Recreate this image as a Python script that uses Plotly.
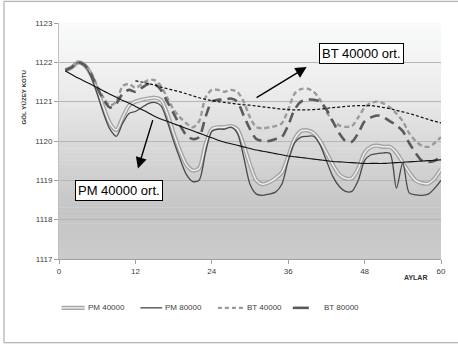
import plotly.graph_objects as go

# Monthly lake surface elevations (m) for each scenario
months = list(range(1, 61))

pm_40000 = [1121.80, 1121.87, 1122.00, 1121.93, 1121.70, 1121.30, 1120.85, 1120.45, 1120.28, 1120.60,
            1120.90, 1121.00, 1121.05, 1121.08, 1121.10, 1121.05, 1120.70, 1120.20, 1119.75, 1119.40,
            1119.25, 1119.30, 1119.90, 1120.30, 1120.35, 1120.35, 1120.38, 1120.30, 1119.90, 1119.40,
            1119.00, 1118.90, 1118.95, 1119.05, 1119.20, 1119.60, 1120.05, 1120.25, 1120.27, 1120.20,
            1120.00, 1119.70, 1119.40, 1119.15, 1119.05, 1119.05, 1119.30, 1119.70, 1119.85, 1119.88,
            1119.85, 1119.85, 1119.70, 1119.45, 1119.20, 1119.00, 1118.93, 1118.92, 1119.05, 1119.28]

pm_80000 = [1121.80, 1121.87, 1122.00, 1121.93, 1121.65, 1121.20, 1120.70, 1120.30, 1120.12, 1120.45,
            1120.70, 1120.75, 1120.85, 1120.95, 1120.98, 1120.90, 1120.50, 1120.00, 1119.55, 1119.15,
            1118.97, 1119.00, 1119.70, 1120.25, 1120.30, 1120.30, 1120.35, 1120.20, 1119.60, 1118.90,
            1118.65, 1118.62, 1118.65, 1118.70, 1118.90, 1119.50, 1119.95, 1120.10, 1120.12, 1120.12,
            1119.90, 1119.50, 1119.10, 1118.85, 1118.72, 1118.72, 1119.00, 1119.50, 1119.65, 1119.68,
            1119.70, 1119.68, 1118.80, 1119.45, 1118.68, 1118.63, 1118.62, 1118.65, 1118.80, 1119.00]

bt_40000 = [1121.80, 1121.87, 1122.00, 1121.95, 1121.75, 1121.40, 1121.10, 1120.90, 1121.00, 1121.40,
            1121.45, 1121.35, 1121.45, 1121.55, 1121.55, 1121.40, 1121.10, 1120.80, 1120.60, 1120.45,
            1120.35, 1120.50, 1121.10, 1121.30, 1121.30, 1121.25, 1121.30, 1121.25, 1121.00, 1120.60,
            1120.35, 1120.32, 1120.35, 1120.38, 1120.45, 1120.80, 1121.20, 1121.32, 1121.33, 1121.25,
            1121.05, 1120.75, 1120.50, 1120.40, 1120.36, 1120.38, 1120.60, 1120.85, 1120.97, 1121.00,
            1120.95, 1120.85, 1120.70, 1120.50, 1120.20, 1120.00, 1119.88, 1119.85, 1119.95, 1120.10]

bt_80000 = [1121.80, 1121.87, 1122.00, 1121.93, 1121.70, 1121.35, 1121.05, 1120.85, 1120.95, 1121.20,
            1121.30, 1121.25, 1121.35, 1121.45, 1121.45, 1121.30, 1121.00, 1120.70, 1120.40, 1120.15,
            1120.05, 1120.10, 1120.60, 1121.00, 1121.05, 1121.05, 1121.08, 1121.00, 1120.65, 1120.30,
            1120.05, 1120.00, 1120.00, 1120.05, 1120.10, 1120.40, 1120.80, 1121.00, 1121.05, 1121.05,
            1121.00, 1120.80, 1120.50, 1120.20, 1120.00, 1119.98, 1120.20, 1120.50, 1120.60, 1120.65,
            1120.60, 1120.50, 1120.40, 1120.25, 1119.95, 1119.70, 1119.50, 1119.47, 1119.50, 1119.60]

# Smoothed averages
pm_40000_avg = [1121.78, 1121.69, 1121.60, 1121.52, 1121.44, 1121.36, 1121.27, 1121.19, 1121.11, 1121.03,
                1120.96, 1120.88, 1120.80, 1120.72, 1120.63, 1120.56, 1120.50, 1120.44, 1120.38, 1120.32,
                1120.26, 1120.20, 1120.14, 1120.08, 1120.02, 1119.97, 1119.93, 1119.89, 1119.85, 1119.81,
                1119.77, 1119.74, 1119.71, 1119.68, 1119.65, 1119.62, 1119.60, 1119.58, 1119.56, 1119.54,
                1119.52, 1119.50, 1119.48, 1119.47, 1119.46, 1119.45, 1119.44, 1119.43, 1119.43, 1119.43,
                1119.43, 1119.44, 1119.45, 1119.46, 1119.47, 1119.48, 1119.49, 1119.50, 1119.51, 1119.52]

bt_avg_months = list(range(12, 61))
bt_40000_avg = [1121.53, 1121.50, 1121.46, 1121.42, 1121.37, 1121.33, 1121.29, 1121.25, 1121.20, 1121.15,
                1121.10, 1121.06, 1121.03, 1121.00, 1120.98, 1120.96, 1120.94, 1120.92, 1120.91, 1120.89,
                1120.87, 1120.85, 1120.83, 1120.81, 1120.80, 1120.79, 1120.79, 1120.79, 1120.80, 1120.81,
                1120.83, 1120.85, 1120.86, 1120.88, 1120.89, 1120.90, 1120.90, 1120.90, 1120.88, 1120.85,
                1120.82, 1120.78, 1120.74, 1120.70, 1120.65, 1120.60, 1120.55, 1120.50, 1120.46]

x_ticks = [0, 12, 24, 36, 48, 60]
y_ticks = [1117, 1118, 1119, 1120, 1121, 1122, 1123]

FONT = "Liberation Sans, Arial, sans-serif"

# Line styles shared by the traces and the legend key
STYLES = {
    "PM 40000": [dict(color="#a4a4a4", width=4.2), dict(color="#f0f0f0", width=1.4)],
    "PM 80000": [dict(color="#4a4a4a", width=1.3)],
    "BT 40000": [dict(color="#9a9a9a", width=2.4, dash="5px,3px")],
    "BT 80000": [dict(color="#5a5a5a", width=2.6, dash="10px,6px")],
}
SERIES = [("PM 40000", pm_40000), ("PM 80000", pm_80000), ("BT 40000", bt_40000), ("BT 80000", bt_80000)]

fig = go.Figure()

for name, values in SERIES:
    for k, st in enumerate(STYLES[name]):
        fig.add_trace(go.Scatter(x=months, y=values, name=name, mode="lines", showlegend=False,
                                 line=dict(shape="spline", smoothing=0.8, **st),
                                 hoverinfo="skip" if k else None))

fig.add_trace(go.Scatter(x=months, y=pm_40000_avg, name="PM 40000 ort.", mode="lines", showlegend=False,
                         line=dict(color="#111111", width=1.1, shape="spline")))
fig.add_trace(go.Scatter(x=bt_avg_months, y=bt_40000_avg, name="BT 40000 ort.", mode="lines", showlegend=False,
                         line=dict(color="#111111", width=1.2, dash="3px,2px", shape="spline")))

# Vertical grey gradient behind the plot area
shapes = []
stops = [(0.0, (203, 203, 203)), (0.2, (197, 197, 197)), (0.5, (218, 218, 218)),
         (0.68, (233, 233, 233)), (0.85, (243, 244, 244)), (1.0, (249, 250, 250))]
n_bands = 60
for i in range(n_bands):
    t = (i + 0.5) / n_bands
    for k in range(len(stops) - 1):
        if stops[k][0] <= t <= stops[k + 1][0]:
            f = (t - stops[k][0]) / (stops[k + 1][0] - stops[k][0])
            c = [round(stops[k][1][j] + f * (stops[k + 1][1][j] - stops[k][1][j])) for j in range(3)]
            break
    shapes.append(dict(type="rect", xref="x domain", yref="y domain", x0=0, x1=1,
                       y0=i / n_bands, y1=(i + 1) / n_bands + 0.002, layer="below",
                       line=dict(width=0), fillcolor=f"rgb({c[0]},{c[1]},{c[2]})"))

# Outer chart frame
shapes.append(dict(type="rect", xref="paper", yref="paper", x0=-0.144, x1=1.06,
                   y0=-0.355, y1=1.092, line=dict(color="#a0a0a0", width=1), layer="above"))

annotations = [
    dict(text="GÖL YÜZEY KOTU", xref="paper", yref="paper", x=-0.108, y=0.81, textangle=-90,
         showarrow=False, font=dict(family=FONT, size=6.2, color="#333333", weight="bold")),
    dict(text="AYLAR", xref="paper", yref="paper", x=0.969, y=-0.102, showarrow=False,
         font=dict(family=FONT, size=7, color="#333333", weight="bold")),
    # label boxes
    dict(text="BT 40000 ort.", xref="x", yref="y", x=47.5, y=1122.22, showarrow=False,
         font=dict(family=FONT, size=13, color="#000000"), bgcolor="white",
         bordercolor="#000000", borderwidth=1, borderpad=2),
    dict(text="PM 40000 ort.", xref="x", yref="y", x=9.45, y=1118.75, showarrow=False,
         font=dict(family=FONT, size=13, color="#000000"), bgcolor="white",
         bordercolor="#000000", borderwidth=1, borderpad=2),
    # pointer arrows
    dict(text="", xref="x", yref="y", axref="x", ayref="y", x=38.9, y=1121.88, ax=30.8, ay=1121.08,
         showarrow=True, arrowhead=2, arrowsize=1.6, arrowwidth=1.4, arrowcolor="#000000"),
    dict(text="", xref="x", yref="y", axref="x", ayref="y", x=12.4, y=1119.3, ax=14.8, ay=1120.57,
         showarrow=True, arrowhead=2, arrowsize=1.6, arrowwidth=1.4, arrowcolor="#000000"),
]

# Legend key below the axis: short line samples followed by the series names
legend_y = -0.207
legend_keys = [(0.007, 0.067), (0.213, 0.270), (0.416, 0.484), (0.612, 0.654)]
legend_text_x = [0.070, 0.273, 0.487, 0.688]
for (name, _), (k0, k1), tx in zip(SERIES, legend_keys, legend_text_x):
    for st in STYLES[name]:
        shapes.append(dict(type="line", xref="paper", yref="paper", x0=k0, x1=k1,
                           y0=legend_y, y1=legend_y, layer="above",
                           line=dict(color=st["color"], width=st["width"],
                                     dash="4px,3px" if name == "BT 40000" else None)))
    annotations.append(dict(text=name, xref="paper", yref="paper", x=tx, y=legend_y,
                            xanchor="left", yanchor="middle", showarrow=False,
                            font=dict(family=FONT, size=8, color="#404040")))

fig.update_layout(
    width=458, height=348,
    margin=dict(l=59, r=15, t=23, b=89),
    paper_bgcolor="white", plot_bgcolor="white",
    font=dict(family=FONT, size=8, color="#404040"),
    shapes=shapes, annotations=annotations,
    showlegend=False,
)
fig.update_xaxes(range=[0, 60], tickvals=x_ticks, ticks="outside", ticklen=4, tickcolor="#a0a0a0",
                 showline=True, linecolor="#a0a0a0", linewidth=1, showgrid=False, zeroline=False,
                 tickfont=dict(family=FONT, size=8, color="#404040"))
fig.update_yaxes(range=[1117, 1123], tickvals=y_ticks, ticks="outside", ticklen=4, tickcolor="#a0a0a0",
                 showline=True, linecolor="#c0c0c0", linewidth=1, showgrid=True, gridcolor="#b6b6b6",
                 gridwidth=1, zeroline=False, tickfont=dict(family=FONT, size=8, color="#404040"))

fig.write_html("out.html")
